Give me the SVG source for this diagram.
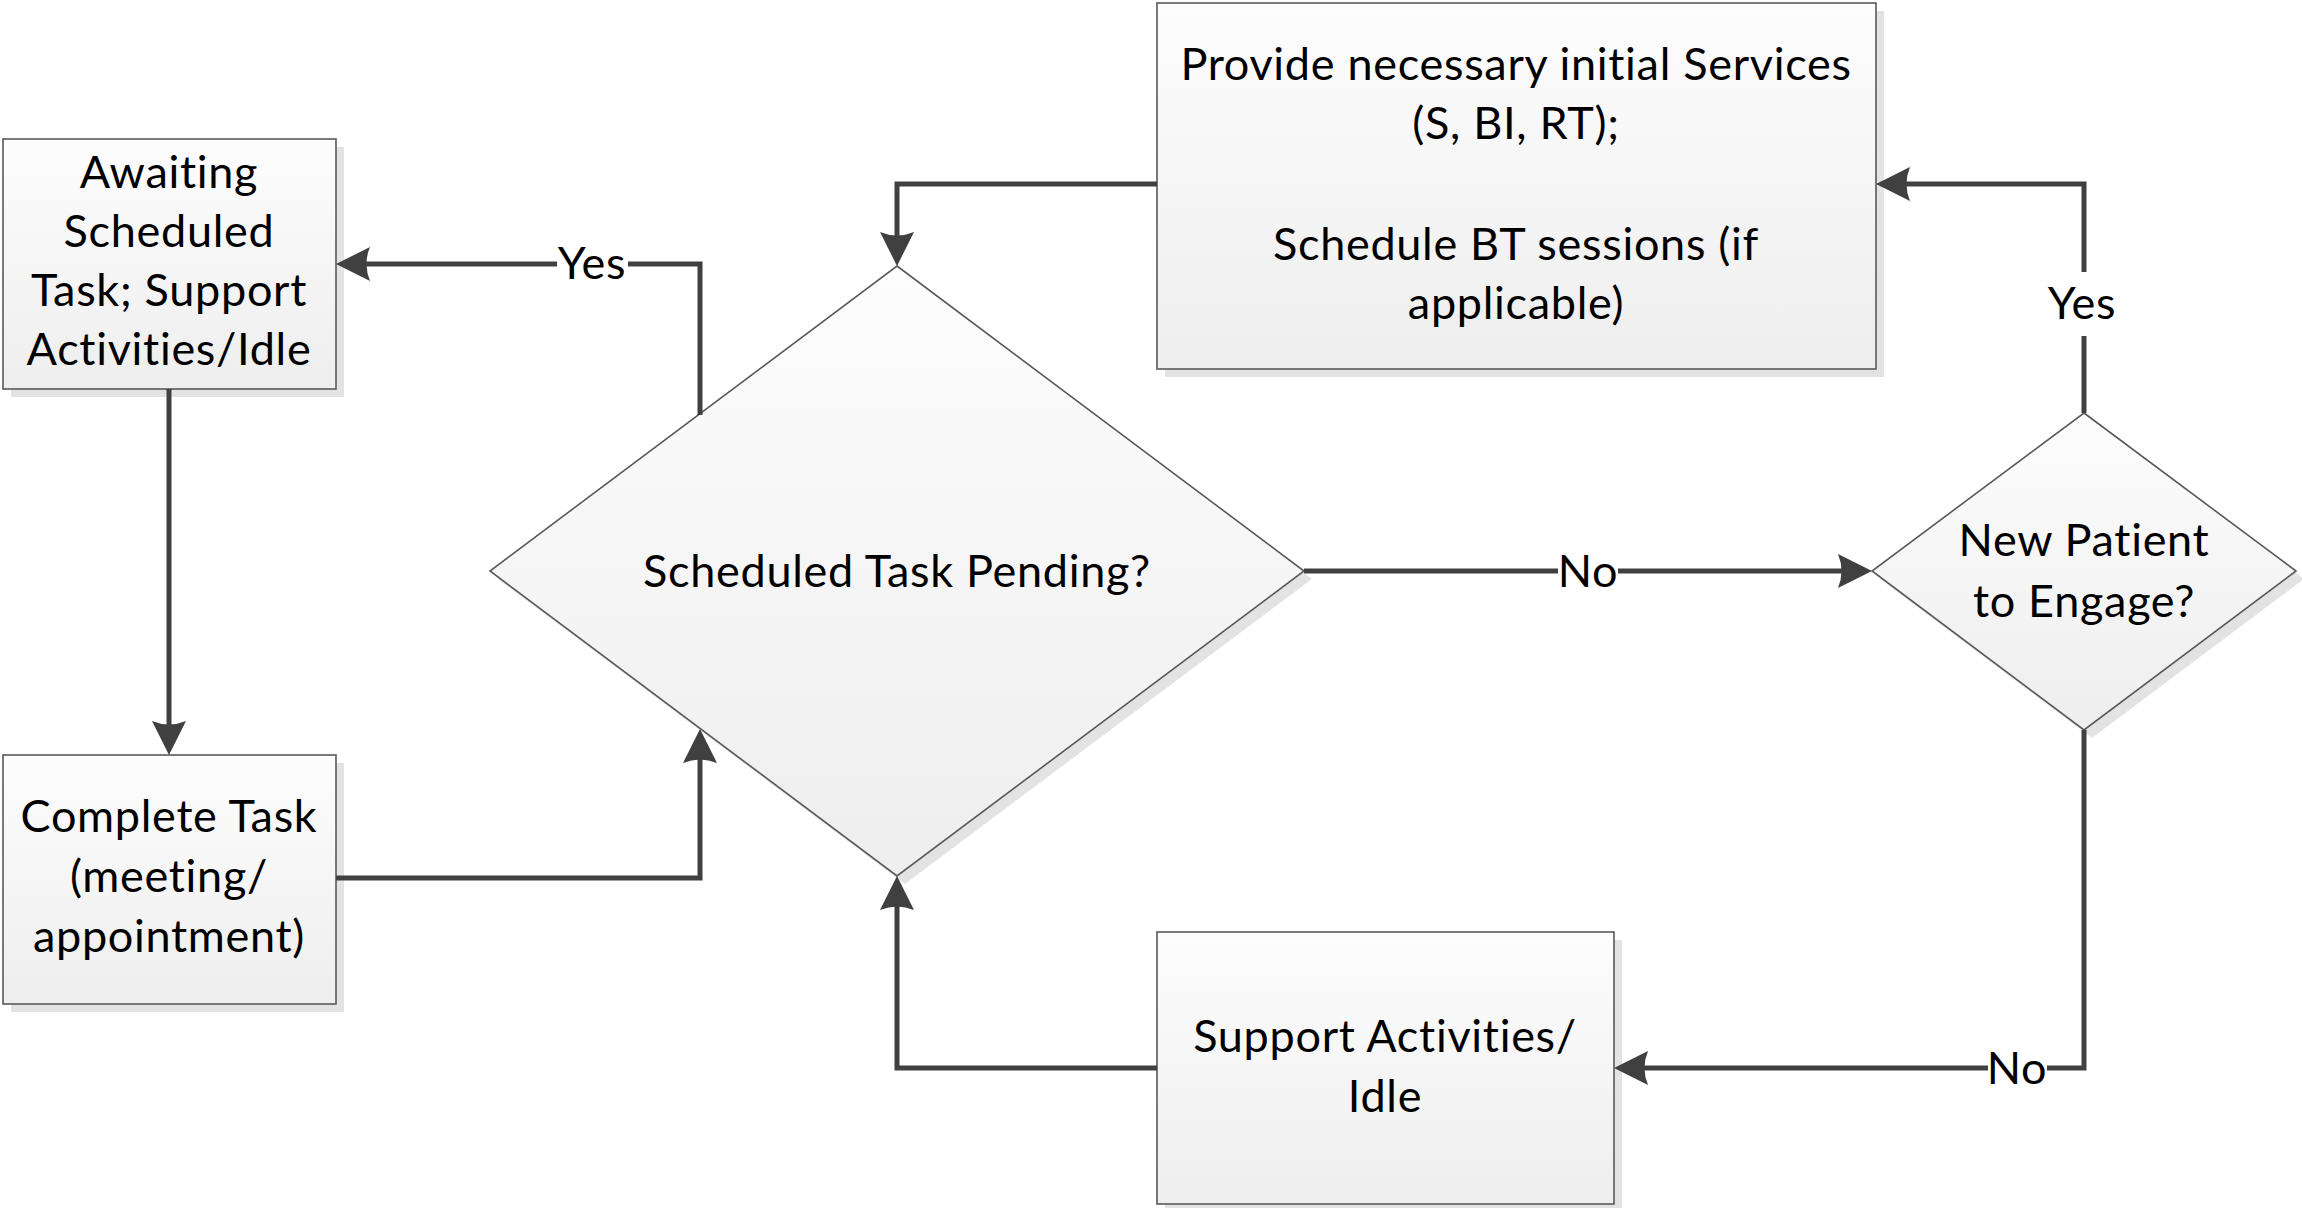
<svg xmlns="http://www.w3.org/2000/svg" width="2302" height="1208" viewBox="0 0 2302 1208">
<style>
text{font-family:Lato,"Liberation Sans",sans-serif;font-size:45px;letter-spacing:0.7px;font-variant-ligatures:none;fill:#000;text-anchor:middle}
.node{fill:url(#g);stroke:#595959;stroke-width:1.6}
.shadow{fill:#e3e3e3}
.conn{fill:none;stroke:#404040;stroke-width:5}
.lbl{fill:#fff}
</style>
<defs>
<linearGradient id="g" x1="0" y1="0" x2="0" y2="1">
<stop offset="0" stop-color="#fdfdfd"/>
<stop offset="1" stop-color="#eeeeee"/>
</linearGradient>
<marker id="arr" markerUnits="userSpaceOnUse" markerWidth="40" markerHeight="40" viewBox="0 -20 40 40" refX="14" refY="0" orient="auto" overflow="visible">
<path d="M34,0 L0,-17 Q7,0 0,17 Z" fill="#404040"/>
</marker>
</defs>
<rect width="2302" height="1208" fill="#fff"/>

<g id="awaiting">
<rect class="shadow" x="11" y="147" width="333" height="250"/>
<rect class="node" x="3" y="139" width="333" height="250"/>
<text x="169" y="188">Awaiting</text>
<text x="169" y="247">Scheduled</text>
<text x="169" y="306">Task; Support</text>
<text x="169" y="365">Activities/Idle</text>
</g>

<g id="complete">
<rect class="shadow" x="11" y="763" width="333" height="249"/>
<rect class="node" x="3" y="755" width="333" height="249"/>
<text x="169" y="832">Complete Task</text>
<text x="169" y="892">(meeting/</text>
<text x="169" y="952">appointment)</text>
</g>

<g id="provide">
<rect class="shadow" x="1165" y="11" width="719" height="366"/>
<rect class="node" x="1157" y="3" width="719" height="366"/>
<text x="1516" y="80">Provide necessary initial Services</text>
<text x="1516" y="139">(S, BI, RT);</text>
<text x="1516" y="260">Schedule BT sessions (if</text>
<text x="1516" y="319">applicable)</text>
</g>

<g id="pending">
<polygon class="shadow" points="905,274 1312,579 905,884 498,579"/>
<polygon class="node" points="897,266 1304,571 897,876 490,571"/>
<text x="897" y="587">Scheduled Task Pending?</text>
</g>

<g id="newpatient">
<polygon class="shadow" points="2092,421 2304,579 2092,738 1880,579"/>
<polygon class="node" points="2084,413 2296,571 2084,730 1872,571"/>
<text x="2084" y="556">New Patient</text>
<text x="2084" y="617">to Engage?</text>
</g>

<g id="support">
<rect class="shadow" x="1165" y="940" width="457" height="272"/>
<rect class="node" x="1157" y="932" width="457" height="272"/>
<text x="1385" y="1052">Support Activities/</text>
<text x="1385" y="1112">Idle</text>
</g>

<g id="connectors">
<path class="conn" d="M700,415 V264 H356" marker-end="url(#arr)"/>
<path class="conn" d="M169,389 V735" marker-end="url(#arr)"/>
<path class="conn" d="M336,878 H700 V749" marker-end="url(#arr)"/>
<path class="conn" d="M1304,571 H1852" marker-end="url(#arr)"/>
<path class="conn" d="M2084,413 V184 H1896" marker-end="url(#arr)"/>
<path class="conn" d="M1157,184 H897 V246" marker-end="url(#arr)"/>
<path class="conn" d="M2084,730 V1068 H1634" marker-end="url(#arr)"/>
<path class="conn" d="M1157,1068 H897 V896" marker-end="url(#arr)"/>
<rect class="lbl" x="557" y="254" width="71" height="20"/>
<text x="592" y="279">Yes</text>
<rect class="lbl" x="1558" y="561" width="60" height="20"/>
<text x="1588" y="587">No</text>
<rect class="lbl" x="2074" y="272" width="20" height="64"/>
<text x="2082" y="319">Yes</text>
<rect class="lbl" x="1988" y="1058" width="59" height="20"/>
<text x="2017" y="1084">No</text>
</g>
</svg>
